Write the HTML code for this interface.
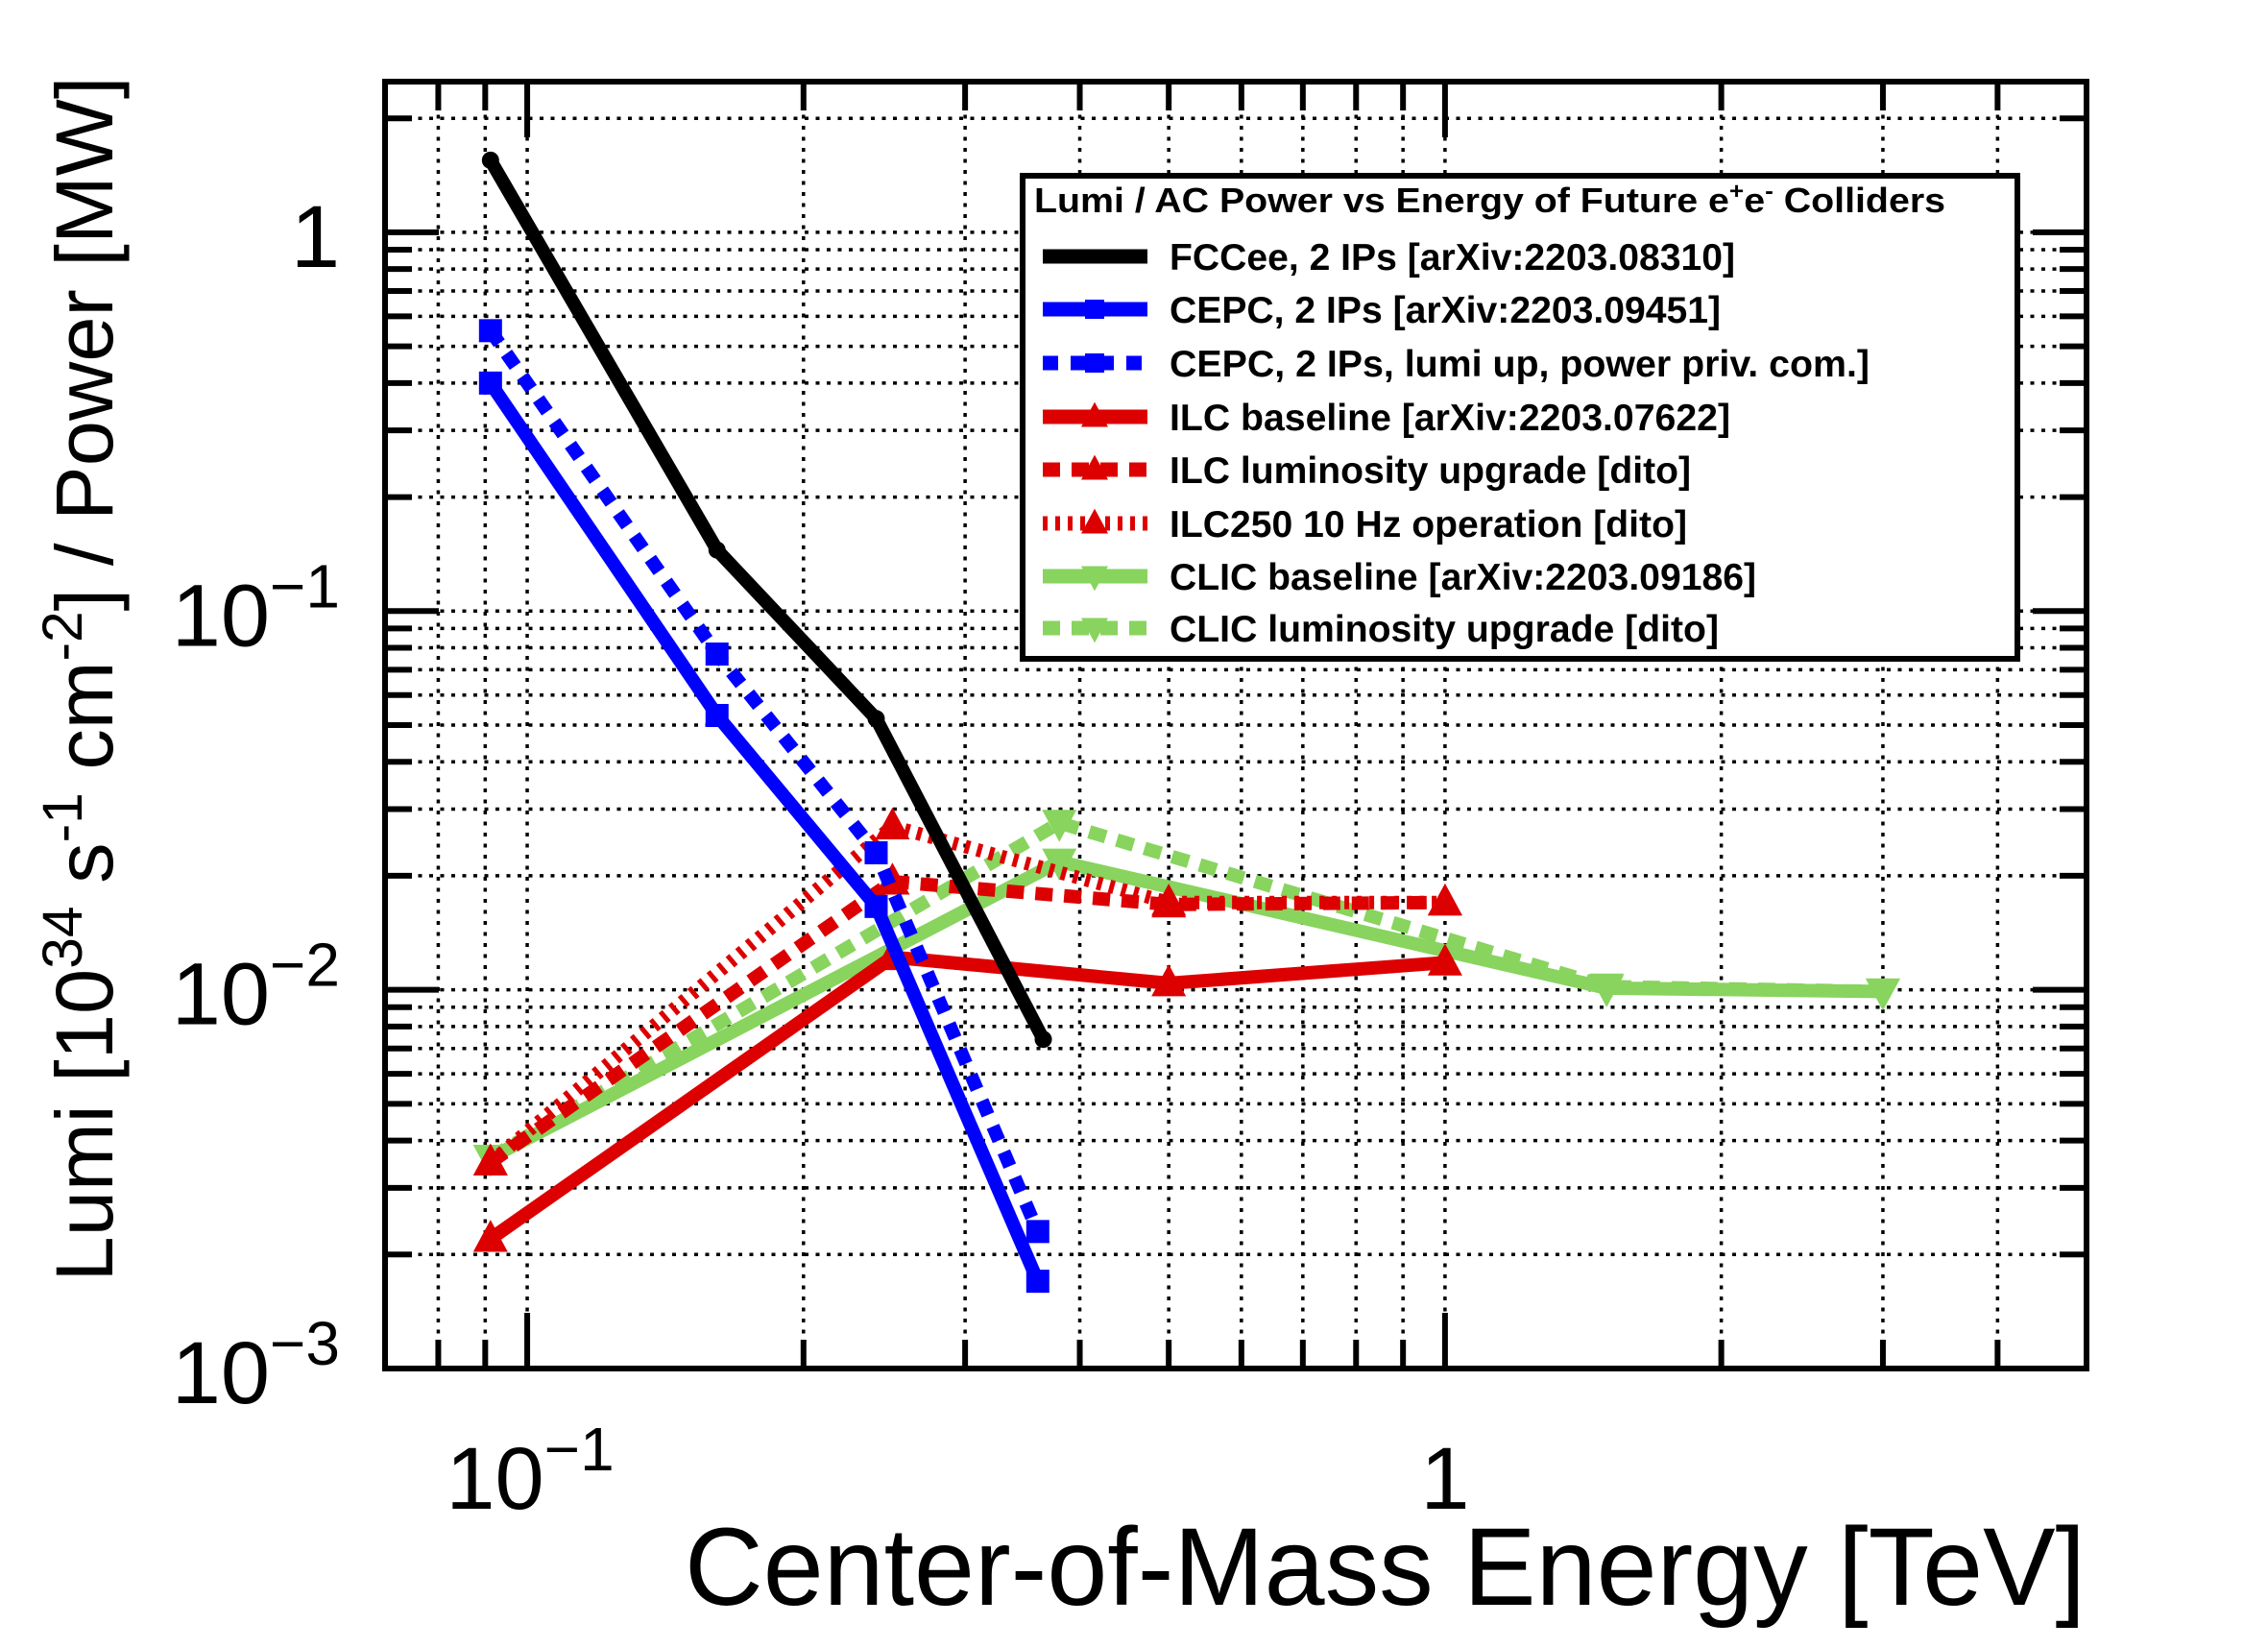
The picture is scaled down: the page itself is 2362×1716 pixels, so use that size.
<!DOCTYPE html>
<html><head><meta charset="utf-8"><style>
html,body{margin:0;padding:0;background:#fff;}
svg{display:block;}
text{font-family:"Liberation Sans",Arial,sans-serif;}
</style></head><body>
<svg id="chart" width="2362" height="1716" viewBox="0 0 2362 1716" xmlns="http://www.w3.org/2000/svg">
<rect width="2362" height="1716" fill="#fff"/>
<g id="grid"></g>
<g id="series"></g>
<g id="axes"></g>
<g id="legend"></g>
<text x="713" y="1671" font-size="115" textLength="1459" lengthAdjust="spacingAndGlyphs">Center-of-Mass Energy [TeV]</text>
<text transform="translate(117,707) rotate(-90)" font-size="84" text-anchor="middle" textLength="1255" lengthAdjust="spacingAndGlyphs">Lumi [10<tspan baseline-shift="super" font-size="58">34</tspan> s<tspan baseline-shift="super" font-size="58">-1</tspan> cm<tspan baseline-shift="super" font-size="58">-2</tspan>] / Power [MW]</text>
</svg>
<script>
const xMin = 0.07, xMax = 5, yMin = 0.001, yMax = 2.5;
const xMajor = [0.1, 1];
const yMajor = [1, 0.1, 0.01, 0.001];
const yTickExp = ["", "\u22121", "\u22122", "\u22123"];

const fccX = [0.0912, 0.161, 0.240, 0.365];
const fccY = [1.55, 0.145, 0.052, 0.0074];
const cepcX = [0.0912, 0.161, 0.240, 0.360];
const cepcY = [0.40, 0.053, 0.0166, 0.0017];
const cepcUpX = [0.0912, 0.161, 0.240, 0.360];
const cepcUpY = [0.55, 0.077, 0.023, 0.0023];
const ilcX = [0.0912, 0.25, 0.5, 1.0];
const ilcY = [0.0022, 0.0122, 0.0104, 0.0118];
const ilcUpX = [0.0912, 0.25, 0.5, 1.0];
const ilcUpY = [0.0035, 0.0193, 0.0168, 0.0170];
const ilc10X = [0.0912, 0.25, 0.5, 1.0];
const ilc10Y = [0.0035, 0.0270, 0.0170, 0.0170];
const clicX = [0.0912, 0.38, 1.5, 3.0];
const clicY = [0.0036, 0.0218, 0.0101, 0.0099];
const clicUpX = [0.0912, 0.38, 1.5, 3.0];
const clicUpY = [0.0036, 0.0276, 0.0102, 0.0099];

const L = 401, R = 2173, T = 85, B = 1425;
const NS = "http://www.w3.org/2000/svg";
function X(v){ return L + (Math.log10(v) - Math.log10(xMin)) / (Math.log10(xMax) - Math.log10(xMin)) * (R - L); }
function Y(v){ return B - (Math.log10(v) - Math.log10(yMin)) / (Math.log10(yMax) - Math.log10(yMin)) * (B - T); }
function mk(tag, attrs, parent){ const e = document.createElementNS(NS, tag); for (const k in attrs) e.setAttribute(k, attrs[k]); parent.appendChild(e); return e; }

const grid = document.getElementById('grid');
const axes = document.getElementById('axes');
for (let d = -2; d <= 0; d++) {
  for (let m = 1; m <= 9; m++) {
    const v = m * Math.pow(10, d);
    if (v < xMin * 0.999 || v > xMax * 1.001) continue;
    const x = X(v);
    const gl = mk('line', {x1:x, x2:x, y1:T, y2:B, stroke:'#000', 'stroke-width':3.5, 'stroke-dasharray':'4 7.5'}, grid);
    
    
    const len = m === 1 ? 58 : 30;
    const t1 = mk('line', {x1:x, x2:x, y1:B, y2:B-len, stroke:'#000', 'stroke-width':6}, axes);
    
    
    const t2 = mk('line', {x1:x, x2:x, y1:T, y2:T+len, stroke:'#000', 'stroke-width':6}, axes);
    
    
  }
}
for (let d = -3; d <= 0; d++) {
  for (let m = 1; m <= 9; m++) {
    const v = m * Math.pow(10, d);
    if (v < yMin * 0.999 || v > yMax * 1.001) continue;
    const y = Y(v);
    const gl = mk('line', {x1:L, x2:R, y1:y, y2:y, stroke:'#000', 'stroke-width':3.5, 'stroke-dasharray':'4 7.5'}, grid);
    
    
    const len = m === 1 ? 56 : 28;
    const t1 = mk('line', {x1:L, x2:L+len, y1:y, y2:y, stroke:'#000', 'stroke-width':6}, axes);
    
    
    const t2 = mk('line', {x1:R, x2:R-len, y1:y, y2:y, stroke:'#000', 'stroke-width':6}, axes);
    
    
  }
}
const frame = mk('rect', {x:L, y:T, width:R-L, height:B-T, fill:'none', stroke:'#000', 'stroke-width':6}, axes);



xMajor.forEach(v => {
  const t = mk('text', {x:X(v), y:1571, 'font-size':92, 'text-anchor':'middle'}, axes);
  
  
  if (v === 1) { t.textContent = '1'; }
  else {
    t.setAttribute('x', X(v) + 3);
    const a = document.createElementNS(NS, 'tspan'); a.textContent = '10'; t.appendChild(a);
    const b = document.createElementNS(NS, 'tspan'); b.setAttribute('dy', -40); b.setAttribute('font-size', 64); b.textContent = '\u22121'; t.appendChild(b);
  }
});
yMajor.forEach((v, i) => {
  const t = mk('text', {x:354, y:Y(v)+36, 'font-size':92, 'text-anchor':'end'}, axes);
  
  
  if (yTickExp[i] === '') { t.textContent = '1'; }
  else {
    const a = document.createElementNS(NS, 'tspan'); a.textContent = '10'; t.appendChild(a);
    const b = document.createElementNS(NS, 'tspan'); b.setAttribute('dy', -40); b.setAttribute('font-size', 64); b.textContent = yTickExp[i]; t.appendChild(b);
  }
});

function marker(g, kind, x, y, color, s) {
  let e;
  if (kind === 'circle') e = mk('circle', {cx:x, cy:y, r:s, fill:color}, g);
  else if (kind === 'square') e = mk('rect', {x:x-s, y:y-s, width:2*s, height:2*s, fill:color}, g);
  else if (kind === 'tri') e = mk('polygon', {points:`${x},${y-s*1.1} ${x-s},${y+s*0.75} ${x+s},${y+s*0.75}`, fill:color}, g);
  else e = mk('polygon', {points:`${x},${y+s*1.1} ${x-s},${y-s*0.75} ${x+s},${y-s*0.75}`, fill:color}, g);
  return e;
}
const seriesDefs = [
  {name:'fccee', xs:fccX, ys:fccY, color:'#000', dash:'', m:'circle', ms:9, label:'FCCee, 2 IPs [arXiv:2203.08310]', tl:589},
  {name:'cepc', xs:cepcX, ys:cepcY, color:'#0000ff', dash:'', m:'square', ms:12, label:'CEPC, 2 IPs [arXiv:2203.09451]', tl:574},
  {name:'cepc-lumi-up', xs:cepcUpX, ys:cepcUpY, color:'#0000ff', dash:'16 13', m:'square', ms:12, label:'CEPC, 2 IPs, lumi up, power priv. com.]', tl:729},
  {name:'ilc-baseline', xs:ilcX, ys:ilcY, color:'#dd0000', dash:'', m:'tri', ms:18, label:'ILC baseline [arXiv:2203.07622]', tl:584},
  {name:'ilc-lumi-upgrade', xs:ilcUpX, ys:ilcUpY, color:'#dd0000', dash:'18 12', m:'tri', ms:18, label:'ILC luminosity upgrade [dito]', tl:543},
  {name:'ilc250-10hz', xs:ilc10X, ys:ilc10Y, color:'#dd0000', dash:'5 8', m:'tri', ms:18, label:'ILC250 10 Hz operation [dito]', tl:539},
  {name:'clic-baseline', xs:clicX, ys:clicY, color:'#88d45e', dash:'', m:'dtri', ms:18, label:'CLIC baseline [arXiv:2203.09186]', tl:611},
  {name:'clic-lumi-upgrade', xs:clicUpX, ys:clicUpY, color:'#88d45e', dash:'18 12', m:'dtri', ms:18, label:'CLIC luminosity upgrade [dito]', tl:572}
];
const sg = document.getElementById('series');
const drawOrder = [6,7,3,4,5,1,2,0];
drawOrder.forEach(i => {
  const s = seriesDefs[i];
  const g = mk('g', {}, sg);
  
  
  const pts = s.xs.map((v, j) => X(v).toFixed(1) + ',' + Y(s.ys[j]).toFixed(1)).join(' ');
  const pl = mk('polyline', {points:pts, fill:'none', stroke:s.color, 'stroke-width':14, 'stroke-linejoin':'round', 'stroke-linecap':s.dash ? 'butt' : 'round'}, g);
  if (s.dash) pl.setAttribute('stroke-dasharray', s.dash);
  
  
  s.xs.forEach((v, j) => {
    const m = marker(g, s.m, X(v), Y(s.ys[j]), s.color, s.ms);
    
    
  });
});

const lg = document.getElementById('legend');
const box = mk('rect', {x:1065, y:183, width:1036, height:503, fill:'#fff', stroke:'#000', 'stroke-width':6}, lg);


const ttl = mk('text', {x:1077, y:221, 'font-size':36, 'font-weight':'bold', textLength:949, lengthAdjust:'spacingAndGlyphs'}, lg);


ttl.innerHTML = 'Lumi / AC Power vs Energy of Future e<tspan dy="-14" font-size="24">+</tspan><tspan dy="14">e</tspan><tspan dy="-14" font-size="24">-</tspan><tspan dy="14"> Colliders</tspan>';
const rowY = [267, 322, 378, 434, 489, 545, 600, 654];
seriesDefs.forEach((s, i) => {
  const g = mk('g', {}, lg);
  
  
  const y = rowY[i];
  const ln = mk('line', {x1:1086, x2:1195, y1:y, y2:y, stroke:s.color, 'stroke-width':15}, g);
  if (s.dash) ln.setAttribute('stroke-dasharray', s.dash);
  marker(g, s.m, 1140, y, s.color, s.m === 'circle' ? 6 : (s.m === 'square' ? 10 : 14));
  const t = mk('text', {x:1218, y:y+14, 'font-size':39, 'font-weight':'bold', textLength:s.tl, lengthAdjust:'spacingAndGlyphs'}, g);
  t.textContent = s.label;
});
</script>
</body></html>
